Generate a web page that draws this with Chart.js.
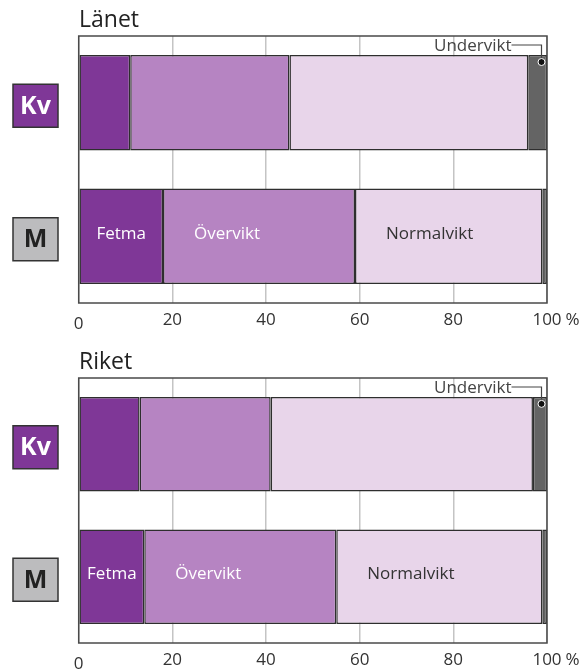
<!DOCTYPE html>
<html>
<head>
<meta charset="utf-8">
<script src="https://cdn.jsdelivr.net/npm/chart.js@4/dist/chart.umd.min.js"></script>
<style>
  body { margin: 0; background: #fff; }
  canvas { display: block; }
</style>
</head>
<body>
<canvas id="lanet" width="587" height="335"></canvas>
<canvas id="riket" width="587" height="335"></canvas>
<script>
var categories = ['Kv', 'M'];
var seriesNames = ['Fetma', 'Övervikt', 'Normalvikt', 'Undervikt'];
var tickLabels = ['0', '20', '40', '60', '80', '100'];

var fetmaLanet = [11, 18];
var overviktLanet = [34, 41];
var normalviktLanet = [51, 40];
var underviktLanet = [4, 1];

var fetmaRiket = [13, 14];
var overviktRiket = [28, 41];
var normalviktRiket = [56, 44];
var underviktRiket = [3, 1];

var colors = ['#7f3797', '#b684c2', '#e8d5ea', '#646464'];
var font = '"Open Sans", "Noto Sans", sans-serif';

var decorations = {
    id: 'decorations',
    afterDraw: function(chart, args, opts) {
        var ctx = chart.ctx;
        var area = chart.chartArea;
        var x = chart.scales.x;
        var y = chart.scales.y;
        ctx.save();

        // title
        ctx.fillStyle = '#222';
        ctx.font = '23px ' + font;
        ctx.textAlign = 'left';
        ctx.textBaseline = 'alphabetic';
        ctx.fillText(opts.title, 79, area.top - 9);

        // plot border
        ctx.strokeStyle = '#4a4a4a';
        ctx.lineWidth = 1.5;
        ctx.strokeRect(area.left, area.top, area.right - area.left, area.bottom - area.top);

        // tick labels
        ctx.fillStyle = '#333';
        ctx.font = '17px ' + font;
        ctx.textBaseline = 'middle';
        tickLabels.forEach(function(t, i) {
            var px = x.getPixelForValue(Number(t));
            var py = area.bottom + (i === 0 ? 21 : 17.5);
            ctx.textAlign = 'center';
            ctx.fillText(t, px, py);
            if (i === tickLabels.length - 1) {
                var w = ctx.measureText(t).width;
                ctx.textAlign = 'left';
                ctx.fillText('%', px + w / 2 + 4, py);
            }
        });

        // category boxes
        categories.forEach(function(c, i) {
            var cy = y.getPixelForValue(i) + 3;
            ctx.fillStyle = i === 0 ? colors[0] : '#bcbcbe';
            ctx.fillRect(13, cy - 21.5, 45, 43);
            ctx.strokeStyle = '#333';
            ctx.lineWidth = 1.5;
            ctx.strokeRect(13, cy - 21.5, 45, 43);
            ctx.fillStyle = i === 0 ? '#fff' : '#222';
            ctx.font = 'bold 25px ' + font;
            ctx.textAlign = 'center';
            ctx.textBaseline = 'middle';
            ctx.fillText(c, 35.5, cy + 1);
        });

        // series labels inside the M bar
        ctx.font = '17px ' + font;
        ctx.textBaseline = 'middle';
        for (var d = 0; d < 3; d++) {
            var bar = chart.getDatasetMeta(d).data[1];
            var ly = bar.y - 2.5;
            if (d === 0) {
                ctx.fillStyle = '#fff';
                ctx.textAlign = 'center';
                ctx.fillText(seriesNames[d], (bar.base + bar.x) / 2, ly);
            } else {
                ctx.fillStyle = d === 1 ? '#fff' : '#333';
                ctx.textAlign = 'left';
                ctx.fillText(seriesNames[d], bar.base + 31, ly);
            }
        }

        // Undervikt callout
        var ub = chart.getDatasetMeta(3).data[0];
        var lx = ub.x - 5.5;
        var top = ub.y - ub.height / 2;
        var lineY = area.top + 9;
        ctx.strokeStyle = '#444';
        ctx.lineWidth = 1.2;
        ctx.beginPath();
        ctx.moveTo(lx - 30, lineY);
        ctx.lineTo(lx, lineY);
        ctx.lineTo(lx, top + 7);
        ctx.stroke();
        ctx.fillStyle = '#444';
        ctx.font = '17px ' + font;
        ctx.textAlign = 'right';
        ctx.textBaseline = 'middle';
        ctx.fillText(seriesNames[3], lx - 30, lineY + 1);
        ctx.beginPath();
        ctx.arc(lx, top + 7, 3.5, 0, Math.PI * 2);
        ctx.fillStyle = '#111';
        ctx.fill();
        ctx.strokeStyle = '#fff';
        ctx.lineWidth = 1;
        ctx.stroke();

        ctx.restore();
    }
};

function makeChart(id, title, values, padTop, padBottom) {
    new Chart(document.getElementById(id), {
        type: 'bar',
        data: {
            labels: categories,
            datasets: values.map(function(v, i) {
                return {
                    label: seriesNames[i],
                    data: v,
                    backgroundColor: colors[i],
                    borderColor: '#2e2e2e',
                    borderWidth: 1.5,
                    borderSkipped: false,
                    barPercentage: 0.715,
                    categoryPercentage: 1
                };
            })
        },
        options: {
            indexAxis: 'y',
            responsive: false,
            animation: false,
            devicePixelRatio: 1,
            layout: { padding: { top: padTop, bottom: padBottom, left: 78.7, right: 40 } },
            scales: {
                x: {
                    stacked: true,
                    min: 0,
                    max: 100,
                    ticks: { display: false, stepSize: 20 },
                    grid: { color: '#c4c4c4', lineWidth: 1.5, drawTicks: false },
                    border: { display: false }
                },
                y: {
                    stacked: true,
                    display: false
                }
            },
            plugins: {
                legend: { display: false },
                tooltip: { enabled: false },
                decorations: { title: title }
            }
        },
        plugins: [decorations]
    });
}

makeChart('lanet', 'Länet', [fetmaLanet, overviktLanet, normalviktLanet, underviktLanet], 36, 32);
makeChart('riket', 'Riket', [fetmaRiket, overviktRiket, normalviktRiket, underviktRiket], 43, 27);
</script>
</body>
</html>
